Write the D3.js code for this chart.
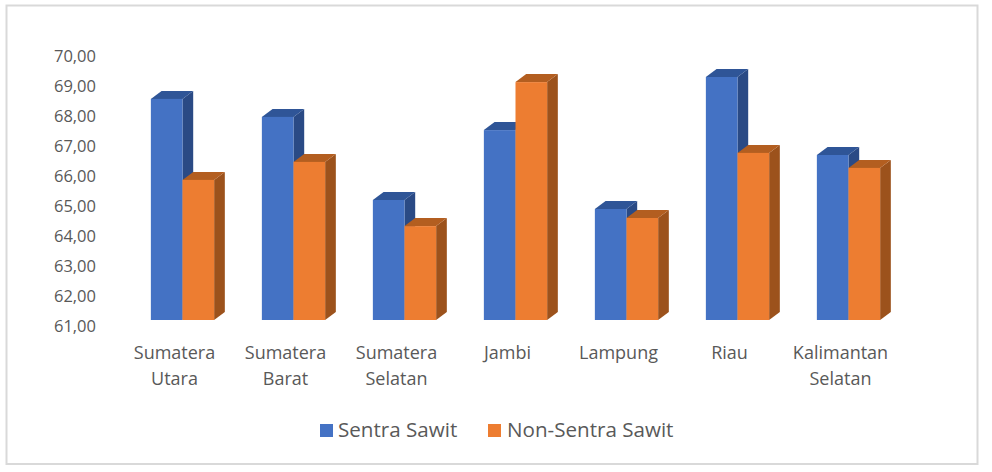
<!DOCTYPE html>
<html>
<head>
<meta charset="utf-8">
<script src="https://cdn.jsdelivr.net/npm/d3@7"></script>
<style>
  html, body { margin: 0; padding: 0; background: #fff; }
  svg { display: block; }
  text { font-family: "Open Sans", "Noto Sans", sans-serif; fill: #595959; }
</style>
</head>
<body>
<script>
// Chart data
const categories = ['Sumatera Utara', 'Sumatera Barat', 'Sumatera Selatan', 'Jambi', 'Lampung', 'Riau', 'Kalimantan Selatan'];
const sentra = [68.37, 67.77, 65.0, 67.33, 64.7, 69.1, 66.5];
const nonSentra = [65.67, 66.27, 64.13, 68.93, 64.4, 66.57, 66.07];
const seriesNames = ['Sentra Sawit', 'Non-Sentra Sawit'];
const yTicks = [61, 62, 63, 64, 65, 66, 67, 68, 69, 70];

const width = 992;
const height = 472;
const depthX = 10.7;
const depthY = 8;

const colors = [
    { front: '#4472c4', top: '#2f5597', side: '#2a4a85' },
    { front: '#ed7d31', top: '#b35e20', side: '#9c521c' }
];

const svg = d3.select('body').append('svg')
    .attr('width', width)
    .attr('height', height);

// Outer chart frame
svg.append('rect')
    .attr('x', 6.5)
    .attr('y', 5.5)
    .attr('width', 971)
    .attr('height', 458.5)
    .attr('fill', '#fff')
    .attr('stroke', '#d9d9d9')
    .attr('stroke-width', 2);

// Scales
const x0 = d3.scaleBand()
    .domain(categories)
    .range([127, 904])
    .paddingInner(0.43)
    .paddingOuter(0.215);

const x1 = d3.scaleBand()
    .domain([0, 1])
    .range([0, x0.bandwidth()]);

const y = d3.scaleLinear()
    .domain([61, 70])
    .range([320, 50]);

// Value axis, labels sit a little lower than the front plane of the bars
const yAxis = svg.append('g')
    .attr('transform', 'translate(96,6)')
    .call(d3.axisLeft(y)
        .tickValues(yTicks)
        .tickSize(0)
        .tickPadding(0)
        .tickFormat(d => d3.format('.2f')(d).replace('.', ',')));
yAxis.select('.domain').remove();
yAxis.selectAll('text')
    .attr('font-size', 16.5)
    .style('font-family', '"Open Sans", "Noto Sans", sans-serif')
    .attr('fill', '#595959');

// One entry per bar, blue first so the orange top covers the blue side
const bars = [];
categories.forEach((c, i) => {
    bars.push({ cat: c, s: 0, value: sentra[i] });
    bars.push({ cat: c, s: 1, value: nonSentra[i] });
});

const bar = svg.append('g')
    .selectAll('g')
    .data(bars)
    .enter().append('g');

// Side face
bar.append('polygon')
    .attr('fill', d => colors[d.s].side)
    .attr('points', d => {
        const l = x0(d.cat) + x1(d.s) + x1.bandwidth();
        return [[l, y(d.value)], [l + depthX, y(d.value) - depthY], [l + depthX, y(61) - depthY], [l, y(61)]].join(' ');
    });

// Top face
bar.append('polygon')
    .attr('fill', d => colors[d.s].top)
    .attr('points', d => {
        const l = x0(d.cat) + x1(d.s);
        const r = l + x1.bandwidth();
        return [[l, y(d.value)], [l + depthX, y(d.value) - depthY], [r + depthX, y(d.value) - depthY], [r, y(d.value)]].join(' ');
    });

// Front face
bar.append('rect')
    .attr('fill', d => colors[d.s].front)
    .attr('x', d => x0(d.cat) + x1(d.s))
    .attr('y', d => y(d.value))
    .attr('width', x1.bandwidth())
    .attr('height', d => y(61) - y(d.value));

// Category labels, wrapped at the space
const label = svg.append('g')
    .selectAll('text')
    .data(categories)
    .enter().append('text')
    .attr('text-anchor', 'middle')
    .attr('font-size', 18)
    .attr('y', 359);

label.selectAll('tspan')
    .data(d => d.split(' ').map(w => ({ word: w, cat: d })))
    .enter().append('tspan')
    .attr('x', d => x0(d.cat) + x0.bandwidth() / 2 - 8)
    .attr('dy', (d, i) => i === 0 ? 0 : 26)
    .text(d => d.word);

// Legend
const legendX = [320, 488];
const legend = svg.append('g')
    .selectAll('g')
    .data(seriesNames)
    .enter().append('g')
    .attr('transform', (d, i) => 'translate(' + legendX[i] + ',424)');

legend.append('rect')
    .attr('width', 13)
    .attr('height', 13)
    .attr('fill', (d, i) => colors[i].front);

legend.append('text')
    .attr('x', (d, i) => i === 0 ? 18 : 19)
    .attr('y', 12.5)
    .attr('font-size', 20.6)
    .text(d => d);
</script>
</body>
</html>
